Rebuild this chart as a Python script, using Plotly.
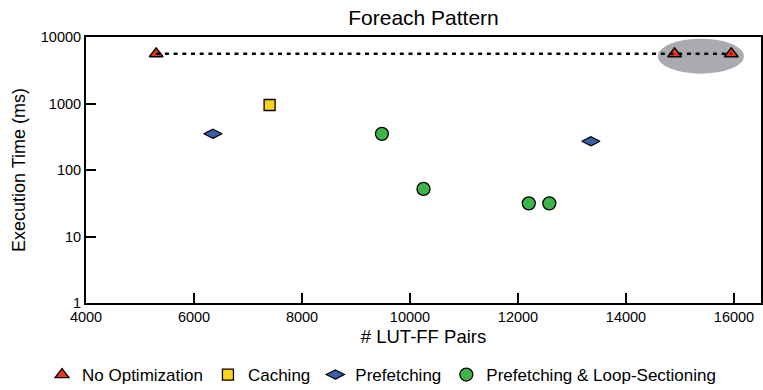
import plotly.graph_objects as go
import math

# Data
noopt_x = [5300, 14900, 15950]
noopt_y = [5600, 5600, 5600]
caching_x = [7400]
caching_y = [950]
prefetch_x = [6350, 13350]
prefetch_y = [350, 270]
loopsec_x = [9480, 10250, 12200, 12580]
loopsec_y = [350, 52, 31.5, 31.5]

x_ticks = [4000, 6000, 8000, 10000, 12000, 14000, 16000]
y_ticks = [1, 10, 100, 1000, 10000]

FONT = "Liberation Sans, Arial, Helvetica, sans-serif"

fig = go.Figure()

# highlight ellipse around the two large no-optimization points
hx = noopt_x[1:]
hy = [math.log10(v) for v in noopt_y[1:]]
fig.add_shape(type="circle", xref="x", yref="y", layer="below",
              x0=min(hx) - 310, x1=max(hx) + 235,
              y0=10 ** (min(hy) - 0.30), y1=10 ** (max(hy) + 0.226),
              fillcolor="#a9abae", line=dict(width=0))

fig.add_trace(go.Scatter(
    x=noopt_x, y=noopt_y, mode="markers", name="No Optimization",
    marker=dict(symbol="triangle-up", size=12, color="#e8361e",
                line=dict(color="black", width=1.3))))
fig.add_trace(go.Scatter(
    x=noopt_x, y=noopt_y, mode="lines", showlegend=False,
    line=dict(color="black", width=2.3, dash="4px,4.7px")))
fig.add_trace(go.Scatter(
    x=caching_x, y=caching_y, mode="markers", name="Caching",
    marker=dict(symbol="square", size=11, color="#ffd21a",
                line=dict(color="black", width=1.3))))
fig.add_trace(go.Scatter(
    x=prefetch_x, y=prefetch_y, mode="markers", name="Prefetching",
    marker=dict(symbol="diamond-wide", size=13, color="#3a5ea8",
                line=dict(color="black", width=1.2))))
fig.add_trace(go.Scatter(
    x=loopsec_x, y=loopsec_y, mode="markers", name="Prefetching & Loop-Sectioning",
    marker=dict(symbol="circle", size=13, color="#3db54a",
                line=dict(color="black", width=1.3))))

fig.update_layout(
    width=763, height=390,
    margin=dict(l=86, r=2, t=37, b=87, autoexpand=False),
    paper_bgcolor="white", plot_bgcolor="white",
    font=dict(family=FONT, color="black", size=14),
    title=dict(text="Foreach Pattern", x=0.5, xref="paper", xanchor="center",
               y=1 - 18 / 390, yanchor="middle", font=dict(size=21)),
    legend=dict(orientation="h", xref="container", yref="container",
                x=0.5, xanchor="center", y=1 - 375 / 390, yanchor="middle",
                font=dict(size=17), itemwidth=30, tracegroupgap=0),
    showlegend=True,
)
fig.update_xaxes(
    range=[4000, 16500], tickvals=x_ticks, ticktext=[str(v) for v in x_ticks],
    ticks="inside", ticklen=10, tickwidth=2, tickcolor="black",
    showline=True, linecolor="black", linewidth=2, mirror=True,
    showgrid=False, zeroline=False, tickfont=dict(size=14.5),
    title=dict(text="# LUT-FF Pairs", font=dict(size=18.5), standoff=6))
fig.update_yaxes(
    type="log", range=[0, 4], tickvals=y_ticks, ticktext=[str(v) for v in y_ticks],
    ticks="inside", ticklen=10, tickwidth=2, tickcolor="black",
    showline=True, linecolor="black", linewidth=2, mirror=True,
    showgrid=False, zeroline=False, tickfont=dict(size=14.5),
    title=dict(text="Execution Time (ms)", font=dict(size=18), standoff=10))

fig.write_html("out.html")
